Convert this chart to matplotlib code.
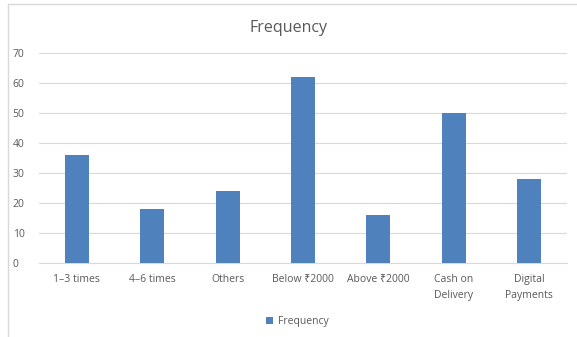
import matplotlib.pyplot as plt
from matplotlib.patches import Rectangle

categories = ["1\u20133 times", "4\u20136 times", "Others", "Below \u20b92000",
              "Above \u20b92000", "Cash on\nDelivery", "Digital\nPayments"]
frequency = [36, 18, 24, 62, 16, 50, 28]
y_ticks = [0, 10, 20, 30, 40, 50, 60, 70]

plt.rcParams['font.family'] = ['Open Sans', 'Noto Sans', 'DejaVu Sans']

text_color = '#595959'
bar_color = '#4f81bd'

fig = plt.figure(figsize=(5.77, 3.37), dpi=100)
ax = fig.add_axes([39 / 577, 0.2196, 528 / 577, 0.6234])

# chart area border
fig.patches.append(Rectangle((8 / 577, -0.05), 1.0, 1.05 - 4 / 337,
                             transform=fig.transFigure, fill=False,
                             edgecolor='#d9d9d9', linewidth=1.0))

x = range(len(categories))
ax.bar(x, frequency, width=0.32, color=bar_color, label='Frequency', zorder=3)

ax.set_xlim(-0.5, len(categories) - 0.5)
ax.set_ylim(0, 70)
ax.set_yticks(y_ticks)
ax.set_xticks(list(x))
ax.set_xticklabels(categories, linespacing=1.6)
ax.tick_params(axis='both', length=0, labelsize=7.5, labelcolor=text_color)
ax.tick_params(axis='x', pad=8)
ax.tick_params(axis='y', pad=19)
for lbl in ax.get_yticklabels():
    lbl.set_horizontalalignment('left')

ax.grid(axis='y', color='#d9d9d9', linewidth=0.8, zorder=0)
for side in ['top', 'right', 'left']:
    ax.spines[side].set_visible(False)
ax.spines['bottom'].set_color('#d9d9d9')
ax.spines['bottom'].set_linewidth(0.8)

fig.text(0.5, 0.918, 'Frequency', ha='center', va='center',
         fontsize=11.5, color=text_color)

fig.legend(loc='center', bbox_to_anchor=(0.515, 0.045), frameon=False,
           fontsize=7.5, labelcolor=text_color, handlelength=0.7,
           handleheight=0.7, handletextpad=0.4)

fig.savefig('out.png', dpi=100)
